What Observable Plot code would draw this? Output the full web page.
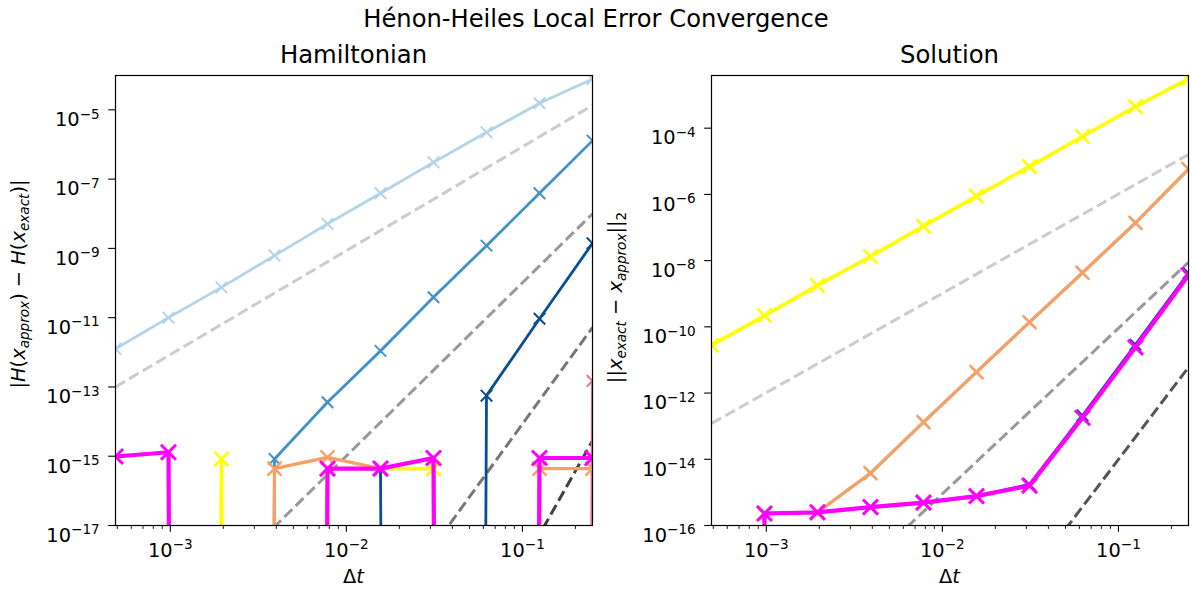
<!DOCTYPE html>
<html>
<head>
<meta charset="utf-8">
<script src="https://cdn.jsdelivr.net/npm/d3@7"></script>
<script src="https://cdn.jsdelivr.net/npm/@observablehq/plot@0.6"></script>
<style>
  body { margin: 0; background: #fff; font-family: "DejaVu Sans", sans-serif; }
  #fig { position: relative; width: 1192px; height: 594px; overflow: hidden; background: #fff; }
  #suptitle { position: absolute; left: 0; top: 6.5px; width: 1192px; text-align: center;
              font-size: 24.2px; line-height: 1; color: #000; z-index: 2; }
  .panel { position: absolute; top: 0; }
</style>
</head>
<body>
<div id="fig">
  <div id="suptitle">Hénon-Heiles Local Error Convergence</div>
</div>
<script>
const SVGNS = "http://www.w3.org/2000/svg";

// Step sizes Δt = 2^-11 … 2^-2
const dt = [0.00048828125, 0.0009765625, 0.001953125, 0.00390625, 0.0078125,
            0.015625, 0.03125, 0.0625, 0.125, 0.25];

// Energy error |H(x_approx) - H(x_exact)| per method (0 = exactly conserved)
const hamBlueLight = [1.26e-12, 1.0e-11, 7.5e-11, 6.2e-10, 5.1e-9, 3.9e-8, 3.05e-7, 2.24e-6, 1.55e-5, 7.8e-5];
const hamBlueMid   = [0, 0, 0, 8.3e-16, 3.6e-14, 1.1e-12, 3.9e-11, 1.2e-9, 3.9e-8, 1.29e-6];
const hamBlueDark  = [0, 0, 0, 0, 4.4e-16, 4.4e-16, 0, 5.6e-14, 9.3e-12, 1.4e-9];
const hamPink      = [0, 0, 0, 0, 0, 0, 0, 0, 0, 1.5e-13];
const hamOrange    = [0, 0, 0, 4.4e-16, 9.3e-16, 4.4e-16, 4.4e-16, 0, 4.4e-16, 4.4e-16];
const hamYellow    = [0, 0, 8.3e-16, 0, 4.4e-16, 4.4e-16, 4.4e-16, 0, 0, 0];
const hamMagenta   = [9.8e-16, 1.3e-15, 0, 0, 4.4e-16, 4.4e-16, 8.9e-16, 0, 8.9e-16, 8.9e-16];

// Solution error ||x_exact - x_approx||_2 per method
const solBlueLight = [2.75e-11, 2.19e-10, 1.78e-9, 1.33e-8, 1.10e-7, 8.9e-7, 6.9e-6, 5.6e-5, 4.5e-4, 3.1e-3];
const solBlueMid   = [0, 2.3e-16, 2.5e-16, 3.8e-15, 1.32e-13, 4.3e-12, 1.38e-10, 4.3e-9, 1.38e-7, 5.8e-6];
const solBlueDark  = [0, 2.3e-16, 2.5e-16, 3.6e-16, 4.9e-16, 7.7e-16, 1.75e-15, 2.1e-13, 2.9e-11, 4.2e-9];
const solOrange    = [0, 2.3e-16, 2.5e-16, 3.8e-15, 1.32e-13, 4.3e-12, 1.38e-10, 4.3e-9, 1.38e-7, 5.8e-6];
const solYellow    = [2.75e-11, 2.19e-10, 1.78e-9, 1.33e-8, 1.10e-7, 8.9e-7, 6.9e-6, 5.6e-5, 4.5e-4, 3.1e-3];
const solMagenta   = [0, 2.3e-16, 2.5e-16, 3.6e-16, 4.9e-16, 7.7e-16, 1.6e-15, 1.8e-13, 2.4e-11, 3.6e-9];

// Reference slopes: error values at Δt = 2^-11 and Δt = 2^-2
const hamRefOrders = [3, 5, 7, 9];
const hamRefStart  = [1.0e-13, 2.8e-22, 5.7e-31, 1.2e-39];
const hamRefEnd    = [1.34e-5, 1.0e-8, 5.2e-12, 2.8e-15];
const hamRefColors = ["#cccccc", "#999999", "#777777", "#404040"];

const solRefOrders = [3, 5, 7];
const solRefStart  = [1.2e-13, 2.5e-22, 6.6e-31];
const solRefEnd    = [1.6e-5, 8.9e-9, 6.0e-12];
const solRefColors = ["#cccccc", "#999999", "#555555"];

// Axis ticks
const xMajor = [1e-3, 1e-2, 1e-1];
const xMinor = [5e-4, 6e-4, 7e-4, 8e-4, 9e-4, 2e-3, 3e-3, 4e-3, 5e-3, 6e-3, 7e-3, 8e-3, 9e-3,
                2e-2, 3e-2, 4e-2, 5e-2, 6e-2, 7e-2, 8e-2, 9e-2, 2e-1];
const hamYTicks = [1e-17, 1e-15, 1e-13, 1e-11, 1e-9, 1e-7, 1e-5];
const solYTicks = [1e-16, 1e-14, 1e-12, 1e-10, 1e-8, 1e-6, 1e-4];

// Zero errors sit far below the axis so the line drops straight down, as on a log plot
const FLOOR = 1e-300;

const FS = 19.4;       // tick / label font size
const TITLE_FS = 24.3; // panel title size

function seriesMarks(values, color, width, r, mw) {
  const rows = values.map((v, i) => ({dt: dt[i], err: v > 0 ? v : FLOOR}));
  return [
    Plot.line(rows, {x: "dt", y: "err", stroke: color, strokeWidth: width, clip: true}),
    Plot.dot(rows, {x: "dt", y: "err", symbol: "times", r, stroke: color, strokeWidth: mw, clip: true})
  ];
}

function refMarks(starts, ends, colors) {
  return starts.map((s, i) => Plot.line(
    [{dt: dt[0], err: s}, {dt: dt[dt.length - 1], err: ends[i]}],
    {x: "dt", y: "err", stroke: colors[i], strokeWidth: 3, strokeDasharray: "11 4.8",
     strokeLinecap: "butt", clip: true}));
}

function expFormat(d) { return "10^" + Math.round(Math.log10(d)); }

function panel({left, width, margins, yDomain, yTicks, refs, series}) {
  const svg = Plot.plot({
    width, height: 594,
    marginTop: margins[0], marginRight: margins[1], marginBottom: margins[2], marginLeft: margins[3],
    style: {fontFamily: "DejaVu Sans", fontSize: FS + "px", color: "#000", background: "transparent", overflow: "visible"},
    x: {type: "log", domain: [dt[0], dt[dt.length - 1]]},
    y: {type: "log", domain: yDomain},
    marks: [
      ...refs,
      ...series.flatMap(s => seriesMarks(...s)),
      Plot.frame({stroke: "#000", strokeWidth: 1.2}),
      Plot.axisX({ticks: xMajor, tickSize: 6.8, tickPadding: 11, tickFormat: expFormat,
                  fontSize: FS, label: null, stroke: "#000", strokeWidth: 1.1}),
      Plot.axisX({ticks: xMinor, tickSize: 3.9, tickFormat: () => "", label: null,
                  stroke: "#000", strokeWidth: 0.9}),
      Plot.axisY({ticks: yTicks, tickSize: 6.8, tickPadding: 9, tickFormat: expFormat,
                  fontSize: FS, label: null, stroke: "#000", strokeWidth: 1.1})
    ]
  });
  svg.classList.add("panel");
  svg.style.left = left + "px";
  svg.style.position = "absolute";
  svg.style.top = "0px";
  return svg;
}

// Turn "10^-5" tick labels into 10 with a raised exponent
function superscriptTicks(svg) {
  svg.querySelectorAll('[aria-label$="tick label"] text').forEach(t => {
    const m = /^10\^(-?\d+)$/.exec(t.textContent);
    if (!m) return;
    const isY = t.closest('[aria-label="y-axis tick label"]') !== null;
    t.textContent = "10";
    if (isY) t.setAttribute("dy", "0.52em");
    const s = document.createElementNS(SVGNS, "tspan");
    s.setAttribute("dy", "-7.6");
    s.setAttribute("font-size", (FS * 0.7).toFixed(2));
    s.textContent = m[1].replace("-", "\u2212");
    t.appendChild(s);
  });
}

// Text with italic / subscript runs
function richText(parent, x, y, rotate, anchor, size, parts) {
  const t = parent.append("text")
    .attr("transform", `translate(${x},${y})` + (rotate ? ` rotate(${rotate})` : ""))
    .attr("text-anchor", anchor)
    .attr("font-family", "DejaVu Sans")
    .attr("font-size", size)
    .attr("fill", "#000");
  let shift = 0;
  for (const p of parts) {
    const sp = t.append("tspan").text(p.t);
    const target = p.sub ? 4.2 : 0;
    if (target !== shift) { sp.attr("dy", target - shift); shift = target; }
    if (p.sub) sp.attr("font-size", size * 0.7);
    if (p.it) sp.attr("font-style", "italic");
  }
  return t;
}

const fig = document.getElementById("fig");

const leftSvg = panel({
  left: 0, width: 600, margins: [75, 8, 69, 115],
  yDomain: [1e-17, 9.8e-5], yTicks: hamYTicks,
  refs: refMarks(hamRefStart, hamRefEnd, hamRefColors),
  series: [
    [hamBlueLight, "#b3d3e8", 2.8, 5.3, 2.0],
    [hamBlueMid, "#4292c6", 2.8, 5.3, 2.0],
    [hamBlueDark, "#0b4d92", 2.8, 5.3, 2.0],
    [hamPink, "#f0708a", 2.8, 5.3, 2.0],
    [hamOrange, "#f9a062", 3.2, 6.4, 2.4],
    [hamYellow, "#ffff00", 3.6, 6.5, 2.6],
    [hamMagenta, "#ff00ff", 4.2, 6.9, 3.0]
  ]
});

const rightSvg = panel({
  left: 600, width: 592, margins: [75, 4, 69, 111],
  yDomain: [1e-16, 3.9e-3], yTicks: solYTicks,
  refs: refMarks(solRefStart, solRefEnd, solRefColors),
  series: [
    [solBlueLight, "#b3d3e8", 2.8, 5.3, 2.0],
    [solBlueMid, "#4292c6", 2.8, 5.3, 2.0],
    [solBlueDark, "#0b4d92", 2.8, 5.3, 2.0],
    [solOrange, "#f9a062", 3.2, 6.4, 2.4],
    [solYellow, "#ffff00", 3.6, 6.5, 2.6],
    [solMagenta, "#ff00ff", 4.2, 6.9, 3.0]
  ]
});

for (const svg of [leftSvg, rightSvg]) { superscriptTicks(svg); fig.appendChild(svg); }

// Titles and axis labels
const L = d3.select(leftSvg), R = d3.select(rightSvg);
L.append("text").attr("x", 353.5).attr("y", 63.3).attr("text-anchor", "middle")
  .attr("font-family", "DejaVu Sans").attr("font-size", TITLE_FS).text("Hamiltonian");
R.append("text").attr("x", 349.5).attr("y", 63.3).attr("text-anchor", "middle")
  .attr("font-family", "DejaVu Sans").attr("font-size", TITLE_FS).text("Solution");

richText(L, 353.5, 583, 0, "middle", FS, [{t: "\u0394"}, {t: "t", it: true}]);
richText(R, 349.5, 583, 0, "middle", FS, [{t: "\u0394"}, {t: "t", it: true}]);

richText(L, 25, 284, -90, "middle", FS, [
  {t: "|"}, {t: "H", it: true}, {t: "("}, {t: "x", it: true}, {t: "approx", it: true, sub: true},
  {t: ") \u2212 "}, {t: "H", it: true}, {t: "("}, {t: "x", it: true}, {t: "exact", it: true, sub: true},
  {t: ")|"}
]);
richText(R, 21.5, 297.5, -90, "middle", FS, [
  {t: "||"}, {t: "x", it: true}, {t: "exact", it: true, sub: true}, {t: " \u2212 "},
  {t: "x", it: true}, {t: "approx", it: true, sub: true}, {t: "||"}, {t: "2", sub: true}
]);
</script>
</body>
</html>
